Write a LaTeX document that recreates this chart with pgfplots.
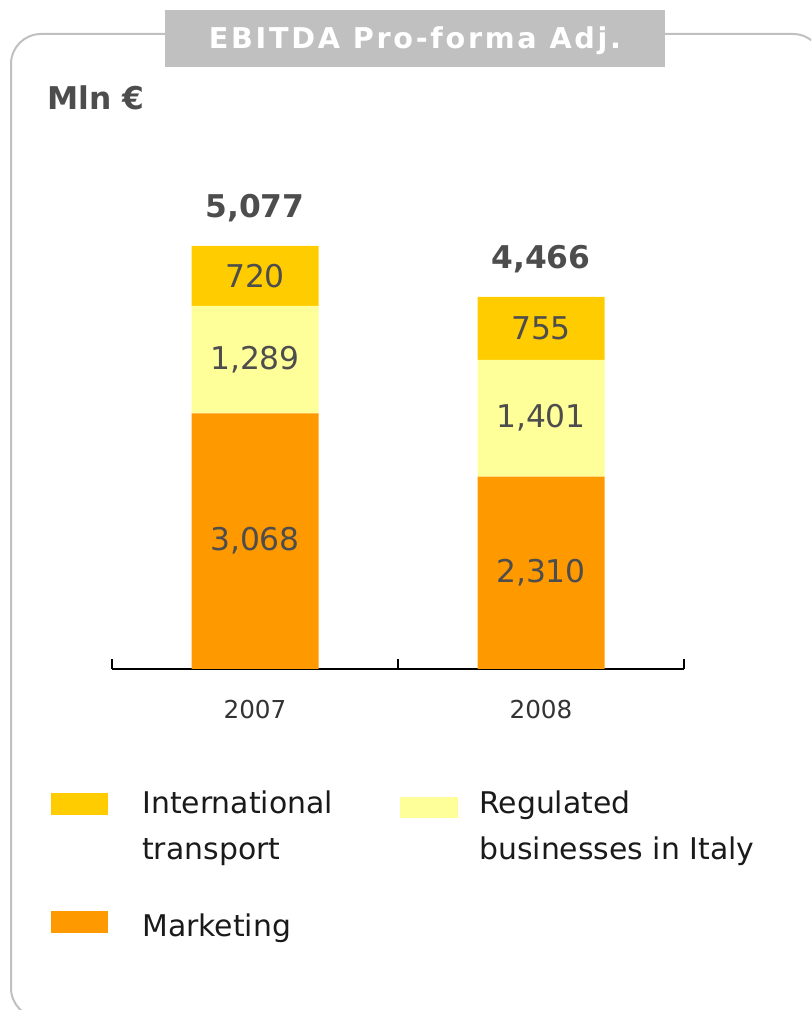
\documentclass[border=0pt]{standalone}
\usepackage{pgfplots}
\pgfplotsset{compat=1.18}
\usepackage{fontspec}
\setmainfont{DejaVu Sans}
\definecolor{cMkt}{HTML}{FF9900}
\definecolor{cReg}{HTML}{FFFF99}
\definecolor{cInt}{HTML}{FFCC00}
\definecolor{cVal}{HTML}{4D4D4D}
\definecolor{cBox}{HTML}{C0C0C0}
\definecolor{cTxt}{HTML}{1A1A1A}
\definecolor{cTick}{HTML}{333333}
\pgfplotsset{
  frame/.style={at={(O)}, anchor=south west, scale only axis,
    width=429pt, height=317.25pt,
    xmin=-0.5, xmax=1.5, ymin=0, ymax=5077, clip=false},
}
\begin{document}
\begin{tikzpicture}[x=0.75pt,y=0.75pt]
\useasboundingbox (0,0) rectangle (811,1010);
\begin{scope}
\clip (0,0) rectangle (811,1010);
\draw[cBox, line width=1.5pt, rounded corners=22.5pt] (11,976) rectangle (823,-8);
\end{scope}
\fill[cBox] (165,943) rectangle (665,1000);
\node[anchor=base, text=white, inner sep=0pt, font=\fontsize{21.5}{26}\selectfont\bfseries\addfontfeatures{LetterSpace=9.5}] at (415,961) {EBITDA Pro-forma Adj.};
\node[anchor=base west, inner sep=0pt, text=cVal, font=\fontsize{23.5}{28}\selectfont\bfseries] at (47,900) {Mln €};
\coordinate (O) at (112,341);
\begin{axis}[frame,
  ybar stacked, bar width=95.25pt,
  axis x line*=bottom, hide y axis,
  axis line style={black, line width=1.2pt},
  xtick={0,1}, xticklabels={2007,2008}, major tick length=0pt,
  minor xtick={-0.5,0.5,1.5}, minor tick length=7.5pt, tick align=inside,
  minor tick style={black, line width=1.2pt},
  xticklabel style={font=\fontsize{18.5}{22}\selectfont, text=cTick, yshift=-20pt},
]
\addplot[fill=cMkt, draw=none] coordinates {(0,3068) (1,2310)};
\addplot[fill=cReg, draw=none] coordinates {(0,1289) (1,1401)};
\addplot[fill=cInt, draw=none] coordinates {(0,720) (1,755)};
\end{axis}
% value labels: same frame, not stacked; points at segment centres
\begin{axis}[frame, hide axis]
\addplot[only marks, mark=none, point meta=explicit symbolic, nodes near coords,
  every node near coord/.append style={anchor=center, inner sep=0pt,
    font=\fontsize{23.5}{28}\selectfont, text=cVal}]
  coordinates {(0,1534)[3,068] (0,3712.5)[1,289] (0,4717)[720]
               (1,1155)[2,310] (1,3010.5)[1,401] (1,4088.5)[755]};
\addplot[only marks, mark=none, point meta=explicit symbolic, nodes near coords,
  every node near coord/.append style={anchor=base, yshift=21pt, inner sep=0pt,
    font=\fontsize{23.5}{28}\selectfont\bfseries, text=cVal}]
  coordinates {(0,5077)[5,077] (1,4466)[4,466]};
\end{axis}
% legend
\fill[cInt] (51,195) rectangle (108,217);
\fill[cReg] (400,192) rectangle (458,213);
\fill[cMkt] (51,77) rectangle (108,99);
\begin{scope}[every node/.style={anchor=base west, inner sep=0pt, text=cTxt, font=\fontsize{22.4}{26}\selectfont}]
\node at (142,196) {International};
\node at (142,150) {transport};
\node at (479,196) {Regulated};
\node at (479,150) {businesses in Italy};
\node at (142,73) {Marketing};
\end{scope}
\end{tikzpicture}
\end{document}
